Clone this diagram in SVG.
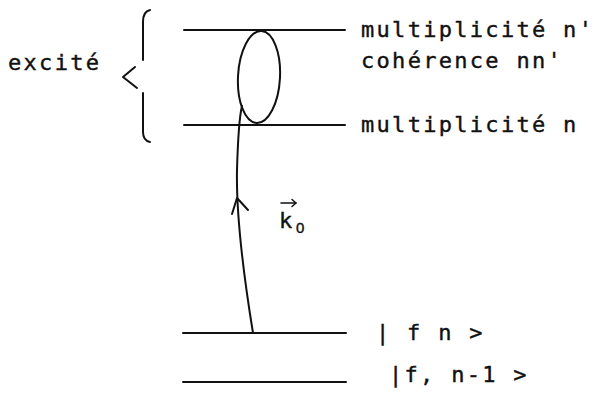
<svg xmlns="http://www.w3.org/2000/svg" width="600" height="396" viewBox="0 0 600 396">
<style>
.ln{stroke:#111111;stroke-width:2;fill:none;stroke-linecap:round;stroke-linejoin:round}
.tx{font-family:"DejaVu Sans Mono","Liberation Mono",monospace;font-size:22px;letter-spacing:2.3px;fill:#111111;stroke:#111111;stroke-width:0.4}
</style>
<rect width="600" height="396" fill="#ffffff"/>
<g id="level-n-prime">
<line class="ln" x1="184" y1="30" x2="345" y2="30"/>
<text class="tx" x="361" y="37">multiplicité n'</text>
</g>
<g id="coherence">
<ellipse class="ln" cx="259" cy="77" rx="21" ry="46" transform="rotate(3 259 77)"/>
<text class="tx" x="361" y="68">cohérence nn'</text>
</g>
<g id="level-n">
<line class="ln" x1="184" y1="125" x2="345" y2="125"/>
<text class="tx" x="361" y="132">multiplicité n</text>
</g>
<g id="excite">
<text class="tx" x="8" y="70">excité</text>
<path class="ln" d="M150,10 C145,11 143,15 143,22 L143,60"/>
<polyline class="ln" points="135,67 123,77 137,88"/>
<path class="ln" d="M143,93 L143,132 C143,138 145,141 150,142"/>
</g>
<g id="level-fn">
<line class="ln" x1="183" y1="333" x2="346" y2="333"/>
<text class="tx" x="376" y="340">| f n &gt;</text>
</g>
<g id="level-fn-1">
<line class="ln" x1="183" y1="382" x2="346" y2="382"/>
<text class="tx" x="389" y="382">|f, n-1 &gt;</text>
</g>
<g id="connectors">
<path class="ln" d="M253,333 C246,290 236,220 237,170 C238,135 239,118 242,106"/>
<polyline class="ln" points="232,214 237,198 248,210"/>
</g>
<g id="k0-label">
<text class="tx" x="279" y="228" style="letter-spacing:0">k</text>
<text class="tx" x="296" y="233" style="font-family:'Liberation Sans',sans-serif;font-size:15px;letter-spacing:0">0</text>
<line class="ln" x1="281" y1="203" x2="296" y2="203" style="stroke-width:1.5"/>
<polyline class="ln" points="292,199.5 296,203 292,206.5" style="stroke-width:1.5"/>
</g>
</svg>
